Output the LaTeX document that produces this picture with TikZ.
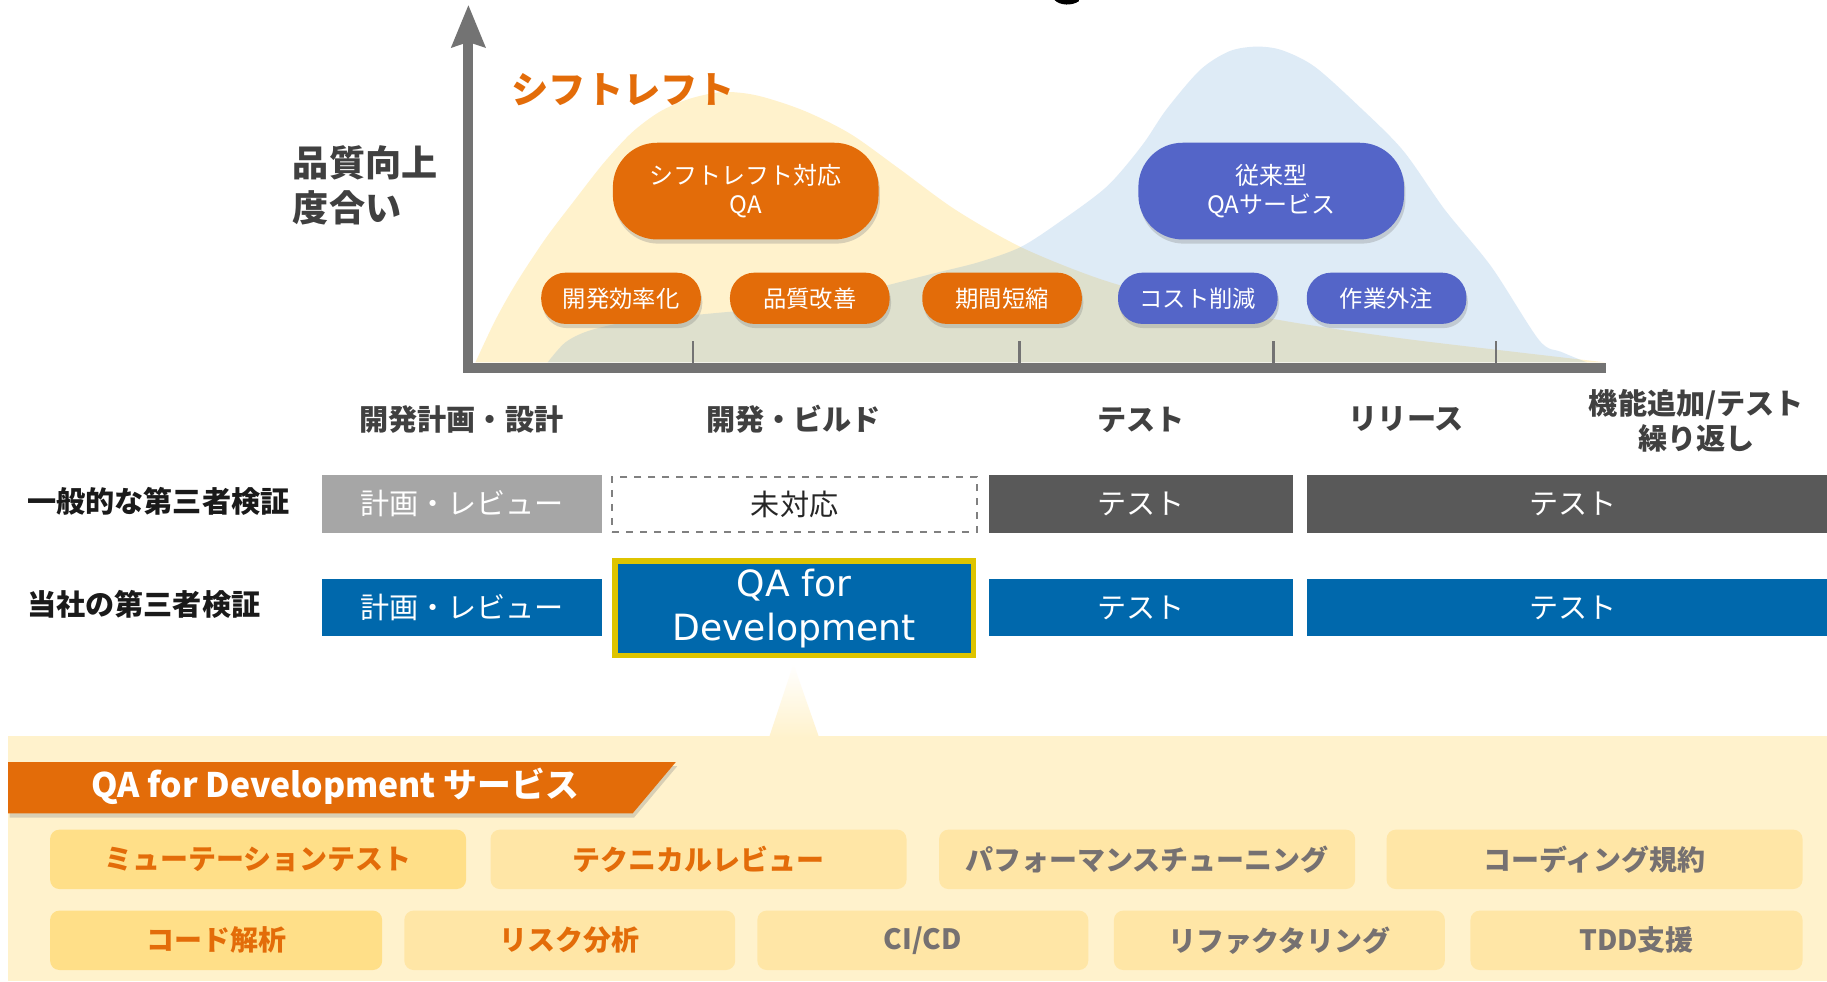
\documentclass[tikz,border=0pt]{standalone}
\usepackage{fontspec}
\setmainfont{Noto Sans CJK JP}
\newfontfamily\verd{DejaVu Sans}
\usetikzlibrary{shadows,arrows.meta}
\definecolor{orng}{RGB}{227,108,9}
\definecolor{pblue}{RGB}{84,101,200}
\definecolor{dblue}{RGB}{0,104,172}
\definecolor{lgray}{RGB}{166,166,166}
\definecolor{dgray}{RGB}{89,89,89}
\definecolor{axisg}{RGB}{115,115,115}
\definecolor{txtg}{RGB}{64,64,64}
\definecolor{yel}{RGB}{255,192,0}
\definecolor{blu}{RGB}{91,155,213}
\definecolor{panelc}{RGB}{255,242,204}
\definecolor{svca}{RGB}{255,223,136}
\definecolor{svcb}{RGB}{255,230,166}
\definecolor{qay}{RGB}{222,196,0}
\definecolor{svcg}{RGB}{118,113,113}
\tikzset{
  shd/.style={drop shadow={opacity=0.3, shadow xshift=0.6pt, shadow yshift=-1.8pt}},
  pillbig/.style={shd, rounded corners=19pt, minimum width=114pt, minimum height=41.5pt,
     inner sep=0pt, text=white, align=center, font=\fontsize{10.3}{12.5}\selectfont},
  pillsm/.style={shd, rounded corners=10.5pt, minimum width=68.5pt, minimum height=22pt,
     inner sep=0pt, text=white, font=\fontsize{10}{12}\selectfont},
  phase/.style={text=txtg, font=\bfseries\fontsize{12.5}{15}\selectfont, align=center},
  rowlabel/.style={anchor=west, inner sep=0pt, text={rgb,255:red,26;green,26;blue,26}, font=\bfseries\fontsize{12.5}{15}\selectfont},
  rowbox/.style={minimum height=24.5pt, inner sep=0pt, text=white, font=\fontsize{12.5}{15}\selectfont},
  svc/.style={rounded corners=4pt, minimum height=25.5pt, inner sep=0pt, font=\bfseries\fontsize{12}{14}\selectfont},
  svcor/.style={svc, text=orng},
  svcgr/.style={svc, text=svcg},
}
\begin{document}
\begin{tikzpicture}[x=0.5pt,y=-0.5pt]
\useasboundingbox (0,0) rectangle (1568,842);
\fill[white] (0,0) rectangle (1568,842);
% title fragment
\fill[black] (905,0) .. controls (910,5) and (920,5) .. (926,1) -- (926,0) -- cycle;
% distributions
\fill[yel, fill opacity=0.2] plot[smooth, tension=0.5] coordinates {(408,311) (425,275) (443,243) (468,205) (493,172) (518,140) (542,114) (566,96) (591,85) (620,79) (650,82) (690,95) (730,115) (772,145) (820,180) (876,212) (940,238) (1000,255) (1100,275) (1200,290) (1300,302) (1378,311)} -- cycle;
\fill[blu, fill opacity=0.2] plot[smooth, tension=0.5] coordinates {(470,311) (485,294) (505,284) (540,276) (600,270) (680,262) (740,250) (800,235) (840,225) (876,212) (910,190) (950,160) (980,125) (1001,94) (1030,60) (1055,44) (1078,40) (1100,43) (1128,57) (1165,90) (1204,129) (1240,180) (1280,229) (1321,292) (1340,302) (1362,311)} -- cycle;
% ticks
\foreach \t in {595,875,1093,1284} \draw[axisg, line width=1pt] (\t,293) -- (\t,312);
% axes
\coordinate (org) at (402,316);
\coordinate (xend) at (1378,316);
\coordinate (ytop) at (402,4);
\draw[axisg, line width=4.5pt] (398,316) -- (xend);
\draw[axisg, line width=4.3pt, -{Stealth[length=18pt, width=14pt, inset=2pt]}] (402,320) -- (ytop);
% axis texts
\node[text=orng, font=\bfseries\fontsize{16}{18}\selectfont] (sl) at (535,77) {シフトレフト};
\node[anchor=west, inner sep=0pt, text=txtg, align=left, font=\bfseries\fontsize{15.5}{19}\selectfont] (ylab) at (251,159) {品質向上\\度合い};
% pills
\node[pillbig, fill=orng] (slqa) at (640,164) {シフトレフト対応\\QA};
\node[pillbig, fill=pblue] (trad) at (1091,164) {従来型\\QAサービス};
\node[pillsm, fill=orng] (p1) at (533,256) {開発効率化};
\node[pillsm, fill=orng] (p2) at (695,256) {品質改善};
\node[pillsm, fill=orng] (p3) at (860,256) {期間短縮};
\node[pillsm, fill=pblue] (p4) at (1028,256) {コスト削減};
\node[pillsm, fill=pblue] (p5) at (1190,256) {作業外注};
% phases
\node[phase] (ph1) at (396,360) {開発計画・設計};
\node[phase] (ph2) at (681,360) {開発・ビルド};
\node[phase] (ph3) at (979,360) {テスト};
\node[phase] (ph4) at (1207,360) {リリース};
\node[phase] (ph5) at (1456,361) {機能追加/テスト\\繰り返し};
% row labels
\node[rowlabel] (rl1) at (23,430) {一般的な第三者検証};
\node[rowlabel] (rl2) at (23,519) {当社の第三者検証};
% row 1
\node[rowbox, fill=lgray, minimum width=120.5pt] (a1) at (396.5,432.5) {計画・レビュー};
\node[rowbox, fill=white, draw={rgb,255:red,128;green,128;blue,128}, dashed, line width=0.8pt, text={rgb,255:red,38;green,38;blue,38}, minimum width=156.5pt, minimum height=23.5pt] (a2) at (682,433) {未対応};
\node[rowbox, fill=dgray, minimum width=130.5pt] (a3) at (979.5,432.5) {テスト};
\node[rowbox, fill=dgray, minimum width=228pt] (a4) at (1350,432.5) {テスト};
% row 2
\node[rowbox, fill=dblue, minimum width=120.5pt] (b1) at (396.5,521.5) {計画・レビュー};
\node[rowbox, fill=dblue, minimum width=130.5pt] (b3) at (979.5,521.5) {テスト};
\node[rowbox, fill=dblue, minimum width=228pt] (b4) at (1350,521.5) {テスト};
% bottom panel
\fill[panelc] (7,632) rectangle (1568,842);
\coordinate (tl) at (660,633);
\coordinate (tr) at (703,633);
\coordinate (tip) at (681,570);
\shade[top color=white, bottom color=panelc] (tl) -- (tip) -- (tr) -- cycle;
\node[fill=dblue, draw=qay, line width=2.5pt, minimum width=154pt, minimum height=40.5pt, inner sep=0pt, text=white, align=center, font=\verd\fontsize{15.5}{19}\selectfont] (qa) at (681.5,522) {QA for\\Development};
% banner
\fill[orng, shd] (7,654) -- (580,654) -- (543,698) -- (7,698) -- cycle;
\node[anchor=west, text=white, font=\bfseries\fontsize{14.5}{17}\selectfont, inner sep=0pt] (ban) at (78,675) {QA for Development サービス};
% services row 1
\node[svcor, fill=svca, minimum width=178.5pt] (s1) at (221.5,737.5) {ミューテーションテスト};
\node[svcor, fill=svcb, minimum width=178.5pt] (s2) at (599.5,737.5) {テクニカルレビュー};
\node[svcgr, fill=svcb, minimum width=178.5pt] (s3) at (984.5,737.5) {パフォーマンスチューニング};
\node[svcgr, fill=svcb, minimum width=178.5pt] (s4) at (1368.5,737.5) {コーディング規約};
% services row 2
\node[svcor, fill=svca, minimum width=142.5pt] (t1) at (185.5,807) {コード解析};
\node[svcor, fill=svcb, minimum width=142pt] (t2) at (489,807) {リスク分析};
\node[svcgr, fill=svcb, minimum width=142pt] (t3) at (792,807) {CI/CD};
\node[svcgr, fill=svcb, minimum width=142pt] (t4) at (1098,807) {リファクタリング};
\node[svcgr, fill=svcb, minimum width=142.5pt] (t5) at (1404.5,807) {TDD支援};
\end{tikzpicture}
\end{document}
